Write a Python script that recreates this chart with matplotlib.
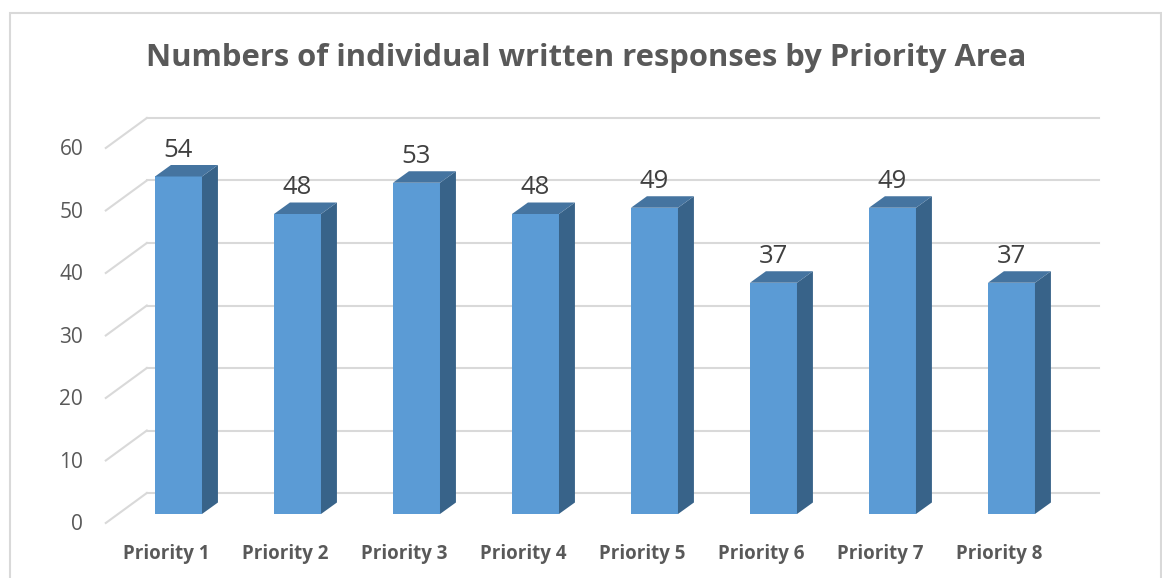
import numpy as np
import matplotlib
matplotlib.use("Agg")
from matplotlib import pyplot as plt
from matplotlib.patches import Polygon, Rectangle

plt.rcParams['font.family'] = ['Open Sans', 'DejaVu Sans']

# Data
categories = ['Priority 1', 'Priority 2', 'Priority 3', 'Priority 4',
              'Priority 5', 'Priority 6', 'Priority 7', 'Priority 8']
responses = [54, 48, 53, 48, 49, 37, 49, 37]
yticks = [0, 10, 20, 30, 40, 50, 60]
title = 'Numbers of individual written responses by Priority Area'

# Colours
c_front = '#5B9BD5'
c_side = '#386389'
c_top = '#4574A0'
c_grid = '#D9D9D9'
c_text = '#595959'

# Fake 3D geometry (in data units)
bar_w = 0.395
depth_dx, depth_dy = 0.134, 1.84      # bar depth
back_dx, back_dy = 0.244, 3.36         # back wall relative to bar plane
front_dx, front_dy = -0.101, -1.44     # floor front edge relative to bar plane
x_left = -0.51
x_right = 7.735

fig = plt.figure(figsize=(11.62, 5.78), dpi=100)
ax = fig.add_axes([0, 0, 1, 1])
ax.set_xlim(-1.5, 8.265)
ax.set_ylim(-10.24, 82.24)
ax.axis('off')

# Chart border
fig.patches.append(Rectangle((10 / 1162, -0.1), 1151 / 1162, 1.1 - 13 / 578,
                             transform=fig.transFigure, fill=False,
                             edgecolor='#D9D9D9', linewidth=1.5))

# Gridlines: diagonal on the side wall plus line along the back wall
for t in yticks:
    ax.plot([x_left + front_dx, x_left + back_dx], [t + front_dy, t + back_dy],
            color=c_grid, lw=1.5, zorder=1)
    ax.plot([x_left + back_dx, x_right], [t + back_dy, t + back_dy],
            color=c_grid, lw=1.5, zorder=1)
    ax.text(x_left + front_dx - 0.19, t + front_dy - 0.3, str(t), ha='right',
            va='center', fontsize=15, color=c_text)

x = np.arange(len(categories))
ax.bar(x, responses, width=bar_w, color=c_front, zorder=3)
for xi, v in zip(x, responses):
    xl, xr = xi - bar_w / 2, xi + bar_w / 2
    side = Polygon([(xr, 0), (xr + depth_dx, depth_dy),
                    (xr + depth_dx, v + depth_dy), (xr, v)],
                   closed=True, facecolor=c_side, edgecolor='none', zorder=3)
    top = Polygon([(xl, v), (xr, v), (xr + depth_dx, v + depth_dy),
                   (xl + depth_dx, v + depth_dy)],
                  closed=True, facecolor=c_top, edgecolor='none', zorder=3)
    ax.add_patch(side)
    ax.add_patch(top)
    ax.text(xi, v + depth_dy + 1.3, str(v), ha='center', va='baseline',
            fontsize=18.5, color='#404040', zorder=4)

for xi, lab in zip(x, categories):
    ax.text(xi + front_dx, -6.4, lab, ha='center', va='center',
            fontsize=13.5, fontweight='bold', color=c_text)

ax.text(3.43, 73.0, title, ha='center', va='center',
        fontsize=22.3, fontweight='bold', color=c_text)

fig.savefig('out.png', dpi=100)
